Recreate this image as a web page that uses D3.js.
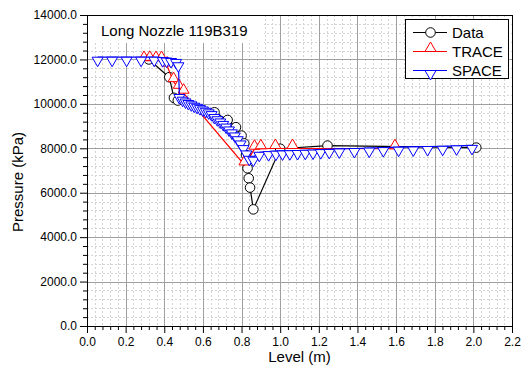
<!DOCTYPE html>
<html>
<head>
<meta charset="utf-8">
<script src="https://cdn.jsdelivr.net/npm/d3@7"></script>
<style>
  body { margin: 0; background: #fff; }
  svg { display: block; font-family: "Liberation Sans", Arial, sans-serif; }
</style>
</head>
<body>
<div id="chart"></div>
<script>
// Datos
var dataX = [0.32, 0.426, 0.45, 0.47, 0.66, 0.728, 0.771, 0.80, 0.814, 0.823, 0.831, 0.837, 0.844, 0.861, 1.0, 1.245, 2.015];
var dataY = [12000, 11200, 10270, 10150, 9620, 9275, 8950, 8570, 8220, 7700, 7100, 6650, 6230, 5250, 7980, 8120, 8030];

var traceX = [0.295, 0.325, 0.357, 0.386, 0.415, 0.448, 0.475, 0.50, 0.815, 0.867, 0.90, 0.975, 1.064, 1.594];
var traceY = [11950, 11960, 11950, 11950, 11700, 11000, 10700, 10480, 7250, 7960, 7980, 7990, 7990, 7980];

var spaceX = [0.055, 0.13, 0.205, 0.28, 0.348, 0.392, 0.412, 0.435, 0.461, 0.473,
              0.478, 0.495, 0.51, 0.525, 0.54, 0.555, 0.57, 0.585, 0.60, 0.615, 0.63, 0.645,
              0.66, 0.675, 0.69, 0.705, 0.72, 0.735, 0.75, 0.765, 0.78, 0.795, 0.81, 0.825, 0.84,
              0.861, 0.892, 0.94, 0.978, 1.012, 1.05, 1.09, 1.13, 1.17, 1.21, 1.254, 1.306,
              1.384, 1.461, 1.534, 1.613, 1.689, 1.763, 1.841, 1.913, 1.993];
var spaceY = [12100, 12100, 12100, 12100, 12100, 12080, 12060, 12040, 12000, 11850,
              10420, 10300, 10220, 10150, 10090, 10030, 9980, 9920, 9860, 9800, 9730, 9650,
              9520, 9420, 9320, 9210, 9090, 8960, 8830, 8690, 8520, 8330, 8120, 7880, 7640,
              7600, 7820, 7850, 7870, 7880, 7890, 7900, 7910, 7920, 7940, 7950, 7970,
              7990, 8010, 8030, 8050, 8060, 8080, 8090, 8110, 8130];

var seriesNames = ["Data", "TRACE", "SPACE"];
var seriesColors = ["#000000", "#ff0000", "#0000ff"];
var xTicks = [0, 0.2, 0.4, 0.6, 0.8, 1.0, 1.2, 1.4, 1.6, 1.8, 2.0, 2.2];
var yTicks = [0, 2000, 4000, 6000, 8000, 10000, 12000, 14000];
var chartTitle = "Long Nozzle 119B319";

// Dimensiones
var W = 523, H = 374;
var margin = { top: 15, left: 87 };
var width = 425, height = 311;

var svg = d3.select("#chart").append("svg")
    .attr("width", W)
    .attr("height", H);

var g = svg.append("g")
    .attr("transform", "translate(" + margin.left + "," + margin.top + ")");

var x = d3.scaleLinear().domain([0, 2.2]).range([0, width]);
var y = d3.scaleLinear().domain([0, 14000]).range([height, 0]);

// Rejilla menor (punteada)
var xMinor = d3.range(0, 2.2001, 0.04);
var yMinor = d3.range(0, 14001, 400);
g.selectAll("line.xMinor").data(xMinor).enter().append("line")
    .attr("x1", d => Math.round(x(d)) + 0.5).attr("x2", d => Math.round(x(d)) + 0.5)
    .attr("y1", 0).attr("y2", height)
    .attr("stroke", "#d4d4d4").attr("stroke-dasharray", "2,2");
g.selectAll("line.yMinor").data(yMinor).enter().append("line")
    .attr("y1", d => Math.round(y(d)) + 0.5).attr("y2", d => Math.round(y(d)) + 0.5)
    .attr("x1", 0).attr("x2", width)
    .attr("stroke", "#d4d4d4").attr("stroke-dasharray", "2,2");

// Rejilla mayor
g.selectAll("line.xMajor").data(xTicks).enter().append("line")
    .attr("x1", d => Math.round(x(d)) + 0.5).attr("x2", d => Math.round(x(d)) + 0.5)
    .attr("y1", 0).attr("y2", height)
    .attr("stroke", "#a0a0a0");
g.selectAll("line.yMajor").data(yTicks).enter().append("line")
    .attr("y1", d => Math.round(y(d)) + 0.5).attr("y2", d => Math.round(y(d)) + 0.5)
    .attr("x1", 0).attr("x2", width)
    .attr("stroke", "#a0a0a0");

// Caja del titulo (tapa la rejilla)
g.append("rect")
    .attr("x", 1).attr("y", 1)
    .attr("width", 176).attr("height", 27)
    .attr("fill", "#fff");
g.append("text")
    .attr("x", 14).attr("y", 21)
    .style("font-size", "15px")
    .text(chartTitle);

// Ejes
var fmt = d3.format(".1f");
var xAxis = d3.axisBottom(x).tickValues(xTicks).tickFormat(fmt).tickSize(7).tickPadding(4);
var yAxis = d3.axisLeft(y).tickValues(yTicks).tickFormat(fmt).tickSize(7).tickPadding(3);

var gx = g.append("g").attr("transform", "translate(0," + height + ")").call(xAxis);
var gy = g.append("g").call(yAxis);
[gx, gy].forEach(function(a) {
    a.select(".domain").remove();
    a.selectAll("text").style("font-size", "12px").attr("fill", "#000")
        .style("font-family", "'Liberation Sans', Arial, sans-serif");
    a.selectAll(".tick line").attr("stroke", "#000");
});

// Marcas menores
g.append("g").attr("transform", "translate(0," + height + ")")
    .call(d3.axisBottom(x).tickValues(xMinor.filter((d, i) => i % 5 !== 0)).tickSize(4).tickFormat(""))
    .select(".domain").remove();
g.append("g")
    .call(d3.axisLeft(y).tickValues(yMinor.filter((d, i) => i % 5 !== 0)).tickSize(4).tickFormat(""))
    .select(".domain").remove();

// Marco
g.append("rect")
    .attr("x", 0.5).attr("y", 0.5)
    .attr("width", width).attr("height", height)
    .attr("fill", "none").attr("stroke", "#000");

// Etiquetas de ejes
svg.append("text")
    .attr("x", margin.left + width / 2)
    .attr("y", 362)
    .attr("text-anchor", "middle")
    .style("font-size", "15px")
    .text("Level (m)");

svg.append("text")
    .attr("transform", "translate(22.5,182) rotate(-90)")
    .attr("text-anchor", "middle")
    .style("font-size", "15px")
    .text("Pressure (kPa)");

// Marcadores
var triW = 5.5, triH = 9.5;
function marker(sel, kind, color) {
    if (kind === 0) {
        sel.append("circle").attr("r", 4.8)
            .attr("fill", "#fff").attr("stroke", color).attr("stroke-width", 1);
    } else if (kind === 1) {
        sel.append("path").attr("d", "M" + (-triW) + ",0L" + triW + ",0L0," + (-triH) + "Z")
            .attr("fill", "#fff").attr("stroke", color).attr("stroke-width", 1);
    } else {
        sel.append("path").attr("d", "M" + (-triW) + ",0L" + triW + ",0L0," + triH + "Z")
            .attr("fill", "#fff").attr("stroke", color).attr("stroke-width", 1);
    }
}

var series = [
    d3.zip(dataX, dataY),
    d3.zip(traceX, traceY),
    d3.zip(spaceX, spaceY)
];

var linea = d3.line().x(d => x(d[0])).y(d => y(d[1]));

series.forEach(function(pts, k) {
    var sg = g.append("g");
    sg.append("path")
        .datum(pts)
        .attr("fill", "none")
        .attr("stroke", seriesColors[k])
        .attr("stroke-width", 1.2)
        .attr("d", linea);
    sg.selectAll("g.m").data(pts).enter().append("g")
        .attr("transform", d => "translate(" + x(d[0]) + "," + y(d[1]) + ")")
        .each(function() { marker(d3.select(this), k, seriesColors[k]); });
});

// Leyenda
var leg = svg.append("g");
leg.append("rect")
    .attr("x", 405.5).attr("y", 19.5)
    .attr("width", 103).attr("height", 59)
    .attr("fill", "#fff").attr("stroke", "#000");
seriesNames.forEach(function(name, k) {
    var ly = 32.5 + k * 19;
    leg.append("line")
        .attr("x1", 413).attr("x2", 447)
        .attr("y1", ly).attr("y2", ly)
        .attr("stroke", seriesColors[k]).attr("stroke-width", 1.2);
    var mg = leg.append("g").attr("transform", "translate(430.5," + ly + ")");
    marker(mg, k, seriesColors[k]);
    leg.append("text")
        .attr("x", 452).attr("y", ly + 5)
        .style("font-size", "15px")
        .text(name);
});
</script>
</body>
</html>
